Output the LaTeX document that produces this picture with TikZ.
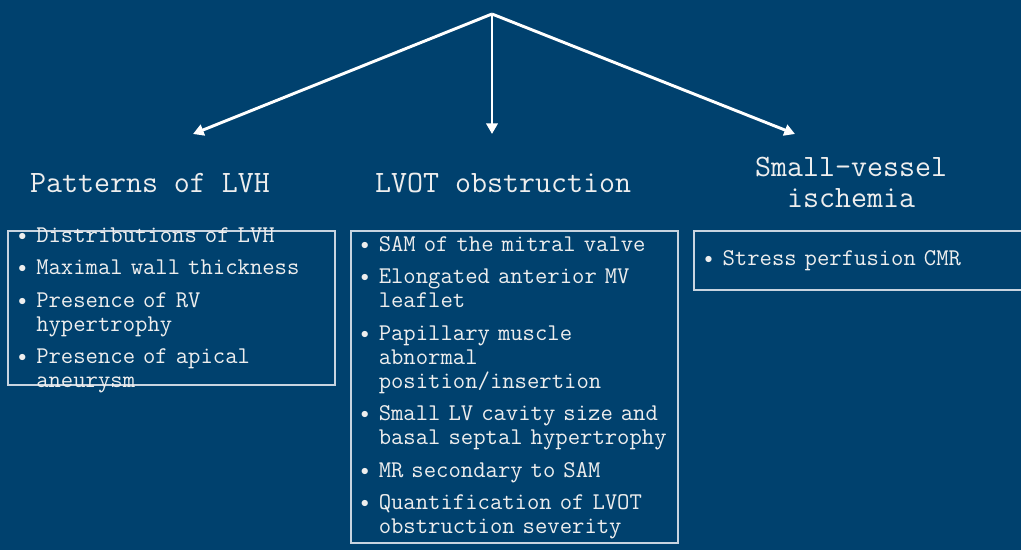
\documentclass[tikz,border=0pt]{standalone}
\usepackage{fontspec}
\usetikzlibrary{arrows.meta,positioning}
\definecolor{slidebg}{RGB}{0,65,110}
\definecolor{boxline}{RGB}{200,212,224}
\definecolor{fgtext}{RGB}{238,238,238}
\newcommand{\bitem}[1]{\noindent\hangindent=13.5pt\hangafter=1\hyphenpenalty=10000\relax
  \makebox[13.5pt][l]{\fontsize{13}{13}\selectfont\raisebox{1.5pt}{$\bullet$}}#1\par}

\begin{document}
\begin{tikzpicture}[x=0.75pt, y=-0.75pt,
      txt/.style={text=fgtext, inner sep=0pt},
      hd/.style={txt, font=\ttfamily\fontsize{23.3}{23.25}\selectfont, align=center, anchor=base},
      lst/.style={txt, font=\ttfamily\fontsize{18}{18}\selectfont\setlength{\parskip}{6.4pt},
                  text width=250pt, align=left, anchor=base west},
      box/.style={draw=boxline, line width=1.1pt},
      arr/.style={color=white, line width=2.2pt, -{Triangle[length=8pt, width=8.5pt]}}]
      \fill[slidebg] (0, 0) rectangle (1021, 550);
      \useasboundingbox (0, 0) rectangle (1021, 550);
      \coordinate (top) at (492, 14);
      \coordinate (tipl) at (193, 134);
      \coordinate (tipm) at (492, 134);
      \coordinate (tipr) at (795, 134);
      \draw[arr] (top) -- (tipl);
      \draw[arr] (top) -- (tipm);
      \draw[arr] (top) -- (tipr);
      \node[hd] (lvh) at (150, 192) {Patterns of LVH};
      \node[hd] (lvot) at (503, 192) {LVOT obstruction};
      \node[hd] (smv) at (851, 207) {Small-vessel\\ischemia};
      \draw[box] (8, 231) rectangle (335, 385)
                 (351, 231) rectangle (678, 543)
                 (694, 231) rectangle (1022, 290);
      \node[lst] (lvhlist) at (18, 242)
            {\bitem{Distributions of LVH}
             \bitem{Maximal wall thickness}
             \bitem{Presence of RV\break hypertrophy}
             \bitem{Presence of apical\break aneurysm}};
      \node[lst] (lvotlist) at (360.5, 251)
            {\bitem{SAM of the mitral valve}
             \bitem{Elongated anterior MV\break leaflet}
             \bitem{Papillary muscle\break abnormal\break position/insertion}
             \bitem{Small LV cavity size and\break basal septal hypertrophy}
             \bitem{MR secondary to SAM}
             \bitem{Quantification of LVOT\break obstruction severity}};
      \node[lst] (smvlist) at (704.3, 265)
            {\bitem{Stress perfusion CMR}};
\end{tikzpicture}
\end{document}
